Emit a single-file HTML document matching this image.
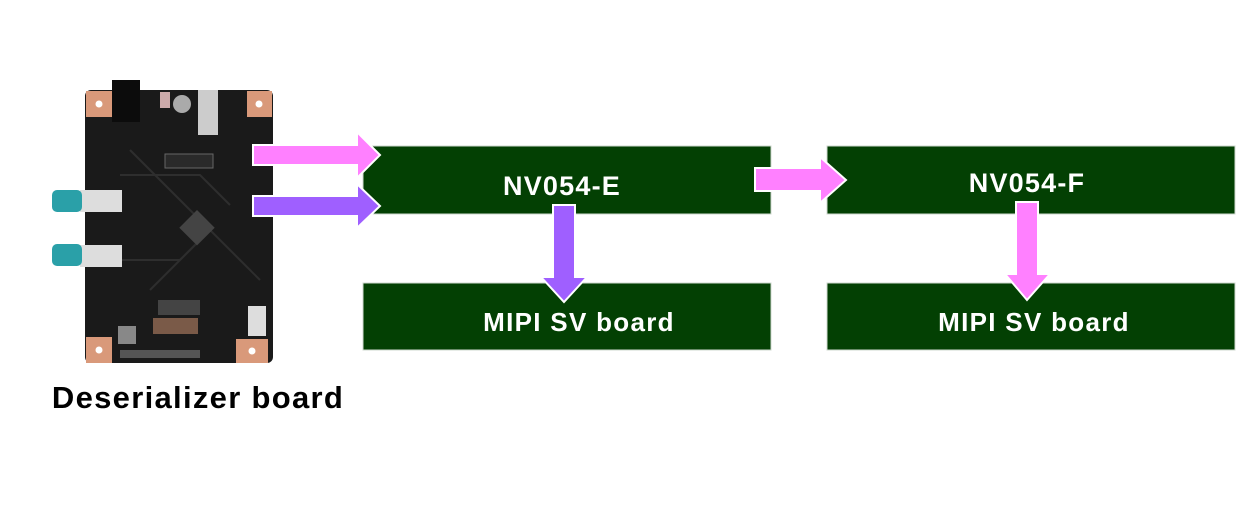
<!DOCTYPE html>
<html><head><meta charset="utf-8"><style>
body{margin:0;width:1249px;height:511px;background:#fff;overflow:hidden;font-family:"Liberation Sans","DejaVu Sans",sans-serif}
</style></head><body>
<svg width="1249" height="511" viewBox="0 0 1249 511" xmlns="http://www.w3.org/2000/svg">
<!-- board -->
<rect x="85" y="90" width="188" height="273" rx="6" fill="#1a1a1a"/>
<g stroke="#2e2e2e" stroke-width="2" fill="none">
<path d="M130 150 L180 200 L240 260 L260 280"/>
<path d="M120 175 L200 175 L230 205"/>
<path d="M120 260 L180 260 L200 240"/>
<path d="M150 290 L200 240"/>
</g>
<rect x="112" y="80" width="28" height="42" fill="#0c0c0c"/>
<rect x="160" y="92" width="10" height="16" fill="#caa"/>
<circle cx="182" cy="104" r="9" fill="#aaa"/>
<rect x="198" y="90" width="20" height="45" fill="#ccc"/>
<rect x="86" y="91" width="26" height="26" fill="#d9997a"/><circle cx="99" cy="104" r="3.5" fill="#fff"/>
<rect x="247" y="91" width="25" height="26" fill="#d9997a"/><circle cx="259" cy="104" r="3.5" fill="#fff"/>
<rect x="86" y="337" width="26" height="26" fill="#d9997a"/><circle cx="99" cy="350" r="3.5" fill="#fff"/>
<rect x="236" y="339" width="32" height="24" fill="#d9997a"/><circle cx="252" cy="351" r="3.5" fill="#fff"/>
<rect x="165" y="154" width="48" height="14" fill="#2a2a2a" stroke="#666" stroke-width="1"/>
<rect x="185" y="215" width="25" height="25" fill="#444" transform="rotate(45 197 227)"/>
<rect x="80" y="190" width="42" height="22" fill="#ddd"/>
<rect x="80" y="245" width="42" height="22" fill="#ddd"/>
<rect x="52" y="190" width="30" height="22" rx="5" fill="#2aa0a8"/>
<rect x="52" y="244" width="30" height="22" rx="5" fill="#2aa0a8"/>
<rect x="158" y="300" width="42" height="15" fill="#444"/>
<rect x="153" y="318" width="45" height="16" fill="#7a5a48"/>
<rect x="248" y="306" width="18" height="30" fill="#ddd"/>
<rect x="118" y="326" width="18" height="18" fill="#888"/>
<rect x="120" y="350" width="80" height="8" fill="#555"/>
<text x="198" y="408" font-size="31" font-weight="bold" text-anchor="middle" letter-spacing="1.3" fill="#000">Deserializer board</text>
<!-- boxes -->
<g fill="#034003" stroke="#cfd8cf" stroke-width="1">
<rect x="363" y="146" width="408" height="68"/>
<rect x="827" y="146" width="408" height="68"/>
<rect x="363" y="283" width="408" height="67"/>
<rect x="827" y="283" width="408" height="67"/>
</g>
<g fill="#fff" font-weight="bold" text-anchor="middle">
<text x="562" y="195" font-size="27" letter-spacing="1.2">NV054-E</text>
<text x="1027" y="192" font-size="27" letter-spacing="1.2">NV054-F</text>
<text x="579" y="331" font-size="26" letter-spacing="1.3">MIPI SV board</text>
<text x="1034" y="331" font-size="26" letter-spacing="1.3">MIPI SV board</text>
</g>
<!-- arrows -->
<g stroke="#fff" stroke-width="2" stroke-linejoin="miter">
<polygon fill="#ff80ff" points="253,145 357,145 357,132 380,155 357,178 357,165 253,165"/>
<polygon fill="#9f5fff" points="253,196 357,196 357,184 380,206 357,228 357,216 253,216"/>
<polygon fill="#ff80ff" points="755,168 820,168 820,157 846,180 820,203 820,191 755,191"/>
<polygon fill="#9f5fff" points="553,205 575,205 575,277 587,277 564,302 541,277 553,277"/>
<polygon fill="#ff80ff" points="1016,202 1038,202 1038,274 1050,274 1027,300 1005,274 1016,274"/>
</g>
</svg>
</body></html>
